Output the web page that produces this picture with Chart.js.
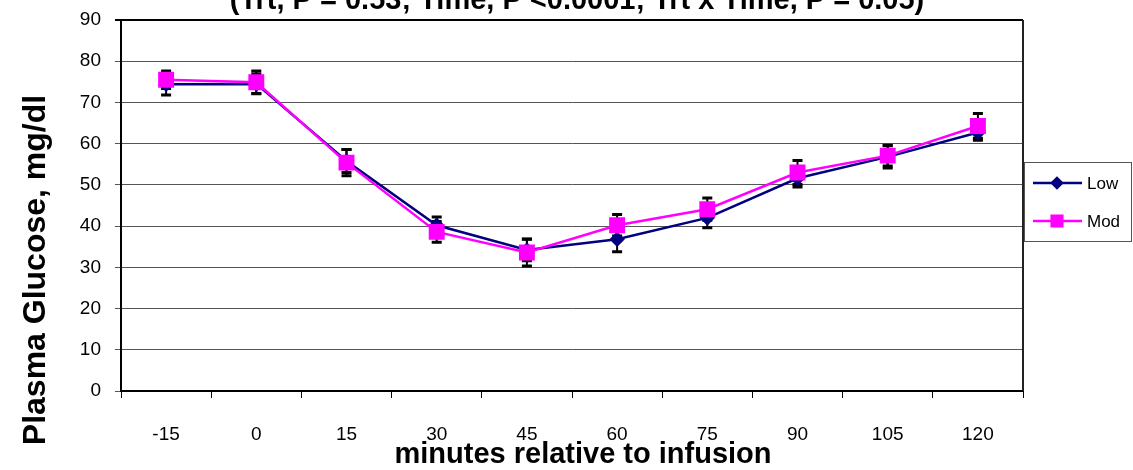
<!DOCTYPE html>
<html><head><meta charset="utf-8">
<script src="https://cdn.jsdelivr.net/npm/chart.js@4.4.1/dist/chart.umd.min.js"></script>
<style>html,body{margin:0;padding:0;background:#fff}#wrap{width:1133px;height:470px}</style>
</head><body><div id="wrap"><canvas id="c" width="1133" height="470"></canvas></div>
<script>
const categories = ['-15', '0', '15', '30', '45', '60', '75', '90', '105', '120'];
const seriesNames = ['Low', 'Mod'];
const lowValues = [74.4, 74.5, 55.8, 40.2, 34.2, 36.8, 42.0, 51.6, 56.8, 62.7];
const modValues = [75.5, 74.9, 55.4, 38.6, 33.6, 40.2, 44.1, 53.0, 57.1, 64.3];
const lowErrors = [2.6, 2.4, 2.8, 2.0, 2.6, 3.0, 2.4, 2.1, 2.7, 1.9];
const modErrors = [2.1, 2.7, 3.2, 2.5, 3.3, 2.6, 2.7, 2.9, 2.5, 3.0];
const yMin = 0, yMax = 90, yStep = 10;
const titleText = '(Trt, P = 0.53; Time, P <0.0001; Trt x Time, P = 0.05)';
const xTitle = 'minutes relative to infusion';
const yTitle = 'Plasma Glucose, mg/dl';

const FONT = "'Liberation Sans', Arial, sans-serif";
const errorsByDataset = [lowErrors, modErrors];

const errorBarPlugin = {
  id: 'errorBars',
  beforeDatasetsDraw(chart) {
    const ctx = chart.ctx, ys = chart.scales.y;
    ctx.save();
    ctx.strokeStyle = '#000';
    chart.data.datasets.forEach((ds, i) => {
      const meta = chart.getDatasetMeta(i);
      const errs = errorsByDataset[i];
      meta.data.forEach((pt, j) => {
        const v = ds.data[j], e = errs[j];
        const x = pt.x;
        const yHi = ys.getPixelForValue(v + e), yLo = ys.getPixelForValue(v - e);
        ctx.lineWidth = 2;
        ctx.beginPath(); ctx.moveTo(x, yHi); ctx.lineTo(x, yLo); ctx.stroke();
        ctx.lineWidth = 3;
        ctx.beginPath();
        ctx.moveTo(x - 5, yHi); ctx.lineTo(x + 5, yHi);
        ctx.moveTo(x - 5, yLo); ctx.lineTo(x + 5, yLo);
        ctx.stroke();
      });
    });
    ctx.restore();
  }
};

const decorPlugin = {
  id: 'decor',
  afterDraw(chart) {
    const ctx = chart.ctx, a = chart.chartArea;
    ctx.save();
    ctx.strokeStyle = '#222'; ctx.lineWidth = 2;
    ctx.beginPath(); ctx.moveTo(a.right, a.top); ctx.lineTo(a.right, a.bottom); ctx.stroke();
    ctx.fillStyle = '#000';
    ctx.font = 'bold 29px ' + FONT;
    ctx.textAlign = 'center'; ctx.textBaseline = 'alphabetic';
    ctx.fillText(titleText, 577, 9);
    ctx.font = 'bold 29px ' + FONT;
    ctx.fillText(xTitle, 583, 463);
    ctx.save();
    ctx.translate(36, 270);
    ctx.rotate(-Math.PI / 2);
    ctx.textBaseline = 'middle';
    ctx.font = 'bold 32px ' + FONT;
    ctx.fillText(yTitle, 0, 0);
    ctx.restore();
    const lx = 1024, ly = 162, lw = 107, lh = 79;
    ctx.fillStyle = '#fff';
    ctx.fillRect(lx, ly, lw, lh);
    ctx.strokeStyle = '#555'; ctx.lineWidth = 1;
    ctx.strokeRect(lx + 0.5, ly + 0.5, lw, lh);
    const rows = [183, 221];
    chart.data.datasets.forEach((ds, i) => {
      const y = rows[i];
      ctx.strokeStyle = ds.borderColor; ctx.lineWidth = 2.5;
      ctx.beginPath(); ctx.moveTo(lx + 9, y); ctx.lineTo(lx + 58, y); ctx.stroke();
      ctx.fillStyle = ds.pointBackgroundColor; ctx.strokeStyle = ds.borderColor;
      Chart.helpers.drawPoint(ctx, { pointStyle: ds.pointStyle, radius: ds.legendRadius, rotation: 0, borderWidth: 1 }, lx + 33, y);
      ctx.fillStyle = '#000';
      ctx.font = '17px ' + FONT;
      ctx.textAlign = 'left'; ctx.textBaseline = 'middle';
      ctx.fillText(ds.label, lx + 63, y + 1);
    });
    ctx.restore();
  }
};

new Chart(document.getElementById('c'), {
  type: 'line',
  data: {
    labels: categories,
    datasets: [
      { label: seriesNames[0], data: lowValues, borderColor: '#000080', backgroundColor: '#000080',
        pointBackgroundColor: '#000080', pointBorderColor: '#000080', pointStyle: 'rectRot', pointRadius: 6,
        legendRadius: 5, borderWidth: 2.5, tension: 0, order: 2 },
      { label: seriesNames[1], data: modValues, borderColor: '#FF00FF', backgroundColor: '#FF00FF',
        pointBackgroundColor: '#FF00FF', pointBorderColor: '#FF00FF', pointStyle: 'rect', pointRadius: 9.5,
        legendRadius: 7.5, borderWidth: 2.5, tension: 0, order: 1 }
    ]
  },
  options: {
    responsive: false, animation: false, devicePixelRatio: 1,
    layout: { padding: { top: 20, right: 110, left: 0, bottom: 0 } },
    plugins: { legend: { display: false }, tooltip: { enabled: false }, title: { display: false } },
    scales: {
      x: {
        type: 'category', offset: true,
        grid: { offset: true, drawOnChartArea: false, color: '#000', lineWidth: 1, tickLength: 7 },
        border: { display: true, color: '#000', width: 2 },
        ticks: { color: '#000', font: { size: 19, family: FONT }, padding: 25, maxRotation: 0, autoSkip: false },
        afterFit: s => { s.height = 79; s.paddingLeft = 0; s.paddingRight = 0; }
      },
      y: {
        min: yMin, max: yMax,
        grid: { color: c => (c.tick && c.tick.value === yMax) ? '#000' : '#555',
                lineWidth: c => (c.tick && c.tick.value === yMax) ? 2 : 1, tickLength: 6 },
        border: { display: true, color: '#000', width: 2 },
        ticks: { stepSize: yStep, color: '#000', font: { size: 19, family: FONT }, padding: 14 },
        afterFit: s => { s.width = 121; s.paddingTop = 0; s.paddingBottom = 0; }
      }
    }
  },
  plugins: [errorBarPlugin, decorPlugin]
});
</script></body></html>
